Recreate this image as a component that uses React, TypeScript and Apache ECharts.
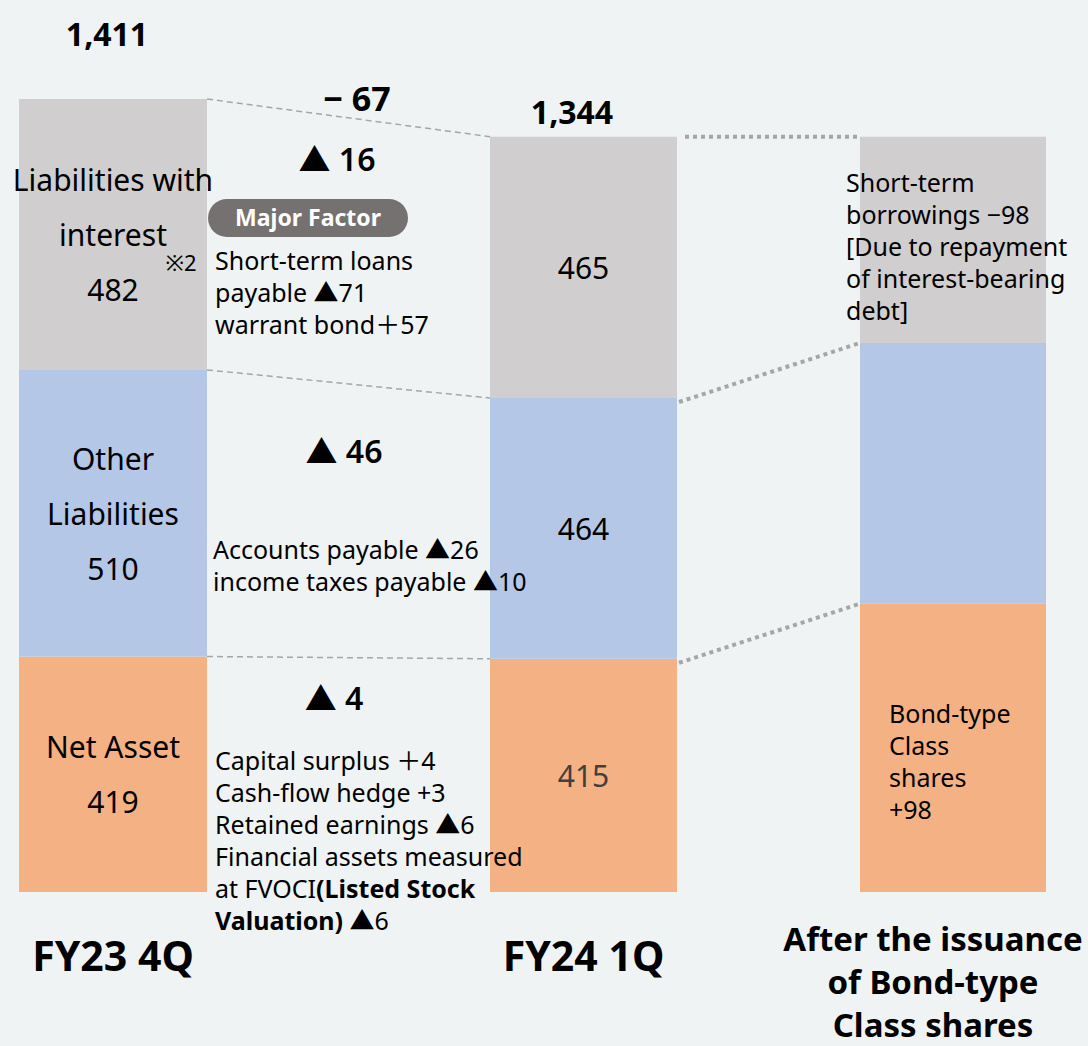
import React, { useEffect, useRef } from "react";
import * as echarts from "echarts";

const categories = ["FY23 4Q", "FY24 1Q", "After the issuance\nof Bond-type\nClass shares"];
const netAsset = [419, 415, 513];
const otherLiabilities = [510, 464, 464];
const interestLiabilities = [482, 465, 367];

const totalLabels = ["1,411", "1,344"];
const totalChange = "− 67";
const segmentChanges = ["▲ 16", "▲ 46", "▲ 4"];
const interestFactors = "Short-term loans\npayable ▲71\nwarrant bond＋57";
const otherFactors = "Accounts payable ▲26\nincome taxes payable ▲10";
const netFactors =
  "Capital surplus ＋4\nCash-flow hedge +3\nRetained earnings ▲6\nFinancial assets measured\nat FVOCI{b|(Listed Stock}\n{b|Valuation)} ▲6";
const afterInterestNote = "Short-term\nborrowings −98\n[Due to repayment\nof interest-bearing\ndebt]";
const afterNetNote = "Bond-type\nClass\nshares\n+98";

const FONT = "'Noto Sans', 'Noto Sans CJK JP', 'DejaVu Sans', sans-serif";
const GRAY = "#d0cece";
const BLUE = "#b4c7e7";
const ORANGE = "#f4b183";

const gridLeft = [19, 490, 860];
const gridWidth = [188, 187, 186];

export default function App() {
  const ref = useRef<HTMLDivElement>(null);

  useEffect(() => {
    if (!ref.current) return;
    const chart = echarts.init(ref.current, undefined, { renderer: "svg" });

    const grids = gridLeft.map((l, i) => ({
      left: l,
      width: gridWidth[i],
      top: 49,
      bottom: 154,
      containLabel: false,
      outerBoundsMode: "none",
    }));
    const xAxes = categories.map((c, i) => ({
      type: "category",
      gridIndex: i,
      data: [c],
      axisLine: { show: false },
      axisTick: { show: false },
      axisLabel: {
        color: "#000",
        fontFamily: FONT,
        fontWeight: "bold",
        fontSize: i === 2 ? 33 : 41,
        lineHeight: i === 2 ? 43 : 48,
        margin: i === 2 ? 25 : 39,
        padding: i === 2 ? [0, 40, 0, 0] : 0,
        interval: 0,
        hideOverlap: false,
      },
    }));
    const yAxes = categories.map((_, i) => ({
      type: "value",
      gridIndex: i,
      min: 0,
      max: 1500,
      show: false,
      splitLine: { show: false },
    }));

    const baseLabel = {
      show: true,
      color: "#000",
      fontFamily: FONT,
      fontSize: 30,
      lineHeight: 55,
    };
    const noteLabel = {
      show: true,
      color: "#000",
      fontFamily: FONT,
      fontSize: 25,
      lineHeight: 32,
      align: "left",
      verticalAlign: "top",
    };

    const labelFor = (i: number, seg: number): any => {
      if (i === 0) {
        const names = ["Net Asset\n", "Other\nLiabilities\n", "Liabilities with\ninterest\n"];
        return { ...baseLabel, position: "inside", formatter: (p: any) => names[seg] + p.value };
      }
      if (i === 1) {
        return {
          ...baseLabel,
          position: "inside",
          color: seg === 0 ? "#404040" : "#000",
          formatter: "{c}",
        };
      }
      if (seg === 2) return { ...noteLabel, position: [-14, 29], formatter: afterInterestNote };
      if (seg === 0) return { ...noteLabel, position: [29, 93], formatter: afterNetNote };
      return { show: false };
    };

    const series: any[] = [];
    const segs = [
      { data: netAsset, color: ORANGE },
      { data: otherLiabilities, color: BLUE },
      { data: interestLiabilities, color: GRAY },
    ];
    categories.forEach((_, i) => {
      segs.forEach((s, seg) => {
        series.push({
          type: "bar",
          xAxisIndex: i,
          yAxisIndex: i,
          stack: "s" + i,
          barWidth: "100%",
          data: [s.data[i]],
          itemStyle: { color: s.color },
          label: labelFor(i, seg),
          silent: true,
        });
      });
    });

    chart.setOption({
      animation: false,
      backgroundColor: "#eff3f4",
      grid: grids,
      xAxis: xAxes,
      yAxis: yAxes,
      series,
    });

    const py = (i: number, v: number) => chart.convertToPixel({ yAxisIndex: i } as any, v) as number;
    const right = (i: number) => gridLeft[i] + gridWidth[i];

    const bounds = (i: number) => [
      netAsset[i] + otherLiabilities[i] + interestLiabilities[i],
      netAsset[i] + otherLiabilities[i],
      netAsset[i],
    ];
    const b1 = bounds(0);
    const b2 = bounds(1);
    const b3 = bounds(2);

    const graphics: any[] = [];
    b1.forEach((v, k) => {
      graphics.push({
        type: "line",
        z: 100,
        shape: { x1: right(0), y1: py(0, v), x2: gridLeft[1], y2: py(1, b2[k]) },
        style: { stroke: "#a6a6a6", lineWidth: 1.5, lineDash: [6, 4] },
        silent: true,
      });
    });
    b2.forEach((v, k) => {
      graphics.push({
        type: "line",
        z: 100,
        shape: { x1: right(1) + (k === 0 ? 8 : 2), y1: py(1, v) + (k === 0 ? 0 : 4), x2: gridLeft[2], y2: py(2, b3[k]) },
        style: { stroke: "#a6a6a6", lineWidth: 4, lineDash: [4, 4] },
        silent: true,
      });
    });

    const txt = (text: string, x: number, y: number, size: number, weight: any, align = "center", extra: any = {}) => ({
      type: "text",
      x,
      y,
      z: 100,
      silent: true,
      style: {
        text,
        fill: "#000",
        font: `${weight} ${size}px ${FONT}`,
        textAlign: align,
        textVerticalAlign: align === "center" ? "middle" : "top",
        ...extra,
      },
    });

    graphics.push(txt(totalLabels[0], 107, 33, 32, "bold"));
    graphics.push(txt(totalChange, 357, 98, 34, "bold"));
    graphics.push(txt(totalLabels[1], 572, 111, 32, "bold"));
    graphics.push(txt(segmentChanges[0], 337, 158, 32, 600));
    graphics.push(txt(segmentChanges[1], 344, 450, 32, 600));
    graphics.push(txt(segmentChanges[2], 334, 697, 32, 600));
    graphics.push(txt("※2", 181, 262, 22, "normal"));
    graphics.push({
      type: "rect",
      z: 100,
      shape: { x: 208, y: 199, width: 200, height: 38, r: 19 },
      style: { fill: "#767171" },
      silent: true,
    });
    graphics.push({
      type: "text",
      x: 308,
      y: 217,
      z: 101,
      silent: true,
      style: {
        text: "Major Factor",
        fill: "#fff",
        font: `bold 23px ${FONT}`,
        textAlign: "center",
        textVerticalAlign: "middle",
      },
    });
    graphics.push(txt(interestFactors, 215, 244, 25, "normal", "left", { lineHeight: 32 }));
    graphics.push(txt(otherFactors, 213, 533, 25, "normal", "left", { lineHeight: 32 }));
    graphics.push({
      type: "text",
      x: 215,
      y: 744,
      z: 100,
      silent: true,
      style: {
        text: netFactors,
        fill: "#000",
        fontFamily: FONT,
        fontSize: 25,
        lineHeight: 32,
        textAlign: "left",
        textVerticalAlign: "top",
        rich: {
          b: { fontFamily: FONT, fontSize: 25, fontWeight: "bold", lineHeight: 32, fill: "#000" },
        },
      },
    });

    chart.setOption({ graphic: graphics });

    return () => chart.dispose();
  }, []);

  return <div ref={ref} style={{ position: "fixed", left: 0, top: 0, width: 1088, height: 1046 }} />;
}
